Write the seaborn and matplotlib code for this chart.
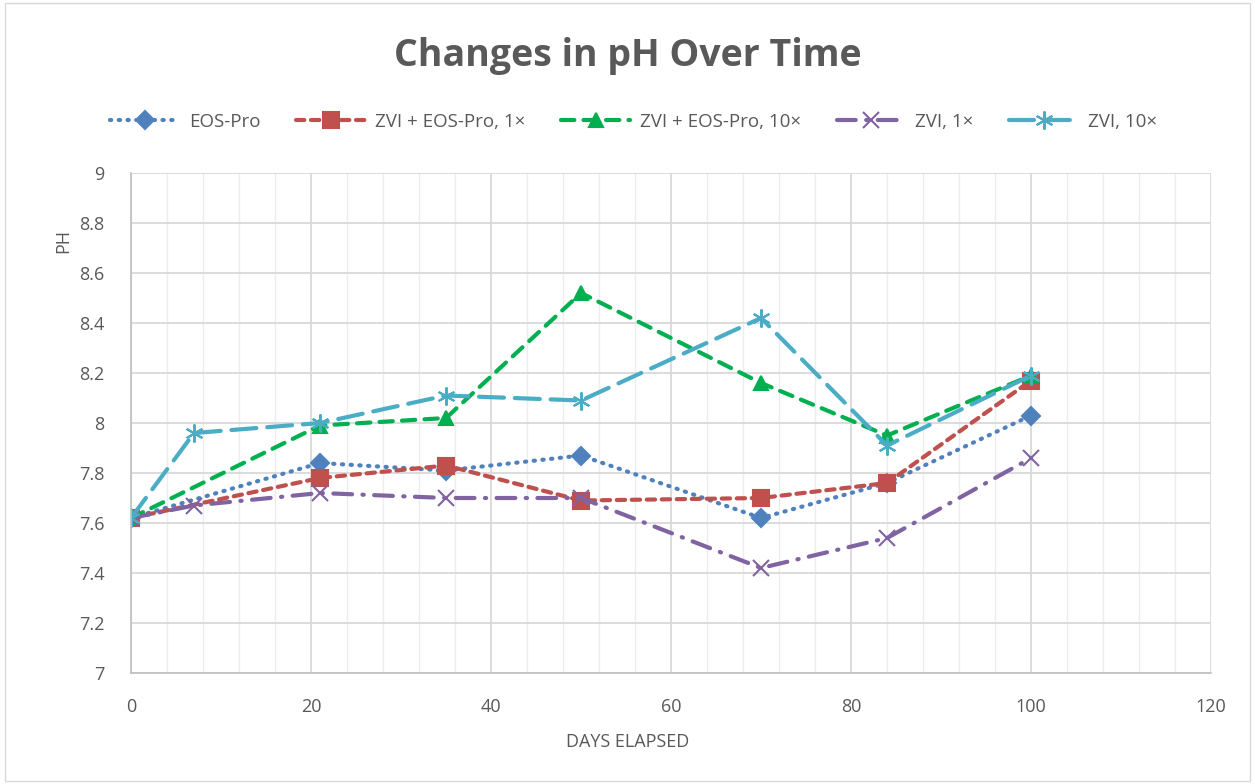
import numpy as np
import pandas as pd
import seaborn as sns
import matplotlib.pyplot as plt
from matplotlib.ticker import MultipleLocator

# data
days_a = [0, 21, 35, 50, 70, 84, 100]
days_b = [0, 7, 21, 35, 50, 70, 84, 100]
eos_pro = [7.62, 7.84, 7.81, 7.87, 7.62, 7.76, 8.03]
zvi_eos_1x = [7.62, 7.78, 7.83, 7.69, 7.70, 7.76, 8.17]
zvi_eos_10x = [7.62, 7.99, 8.02, 8.52, 8.16, 7.95, 8.19]
zvi_1x = [7.62, 7.67, 7.72, 7.70, 7.70, 7.42, 7.54, 7.86]
zvi_10x = [7.62, 7.96, 8.00, 8.11, 8.09, 8.42, 7.91, 8.19]

series = [
    ("EOS-Pro", days_a, eos_pro),
    ("ZVI + EOS-Pro, 1×", days_a, zvi_eos_1x),
    ("ZVI + EOS-Pro, 10×", days_a, zvi_eos_10x),
    ("ZVI, 1×", days_b, zvi_1x),
    ("ZVI, 10×", days_b, zvi_10x),
]
colors = ["#4F81BD", "#C0504D", "#00B050", "#8064A2", "#4BACC6"]
styles = [(0, (0.3, 1.8)), (0, (2.0, 1.6)), (0, (3.2, 2.2)),
          (0, (4.5, 2.5, 0.3, 2.5)), (0, (6, 2.6))]
markers = ["D", "s", "^", "x", (6, 2, 0)]
msizes = [9, 11, 10, 11, 13]

sns.set_style("white")
plt.rcParams['font.family'] = ['Open Sans', 'DejaVu Sans']

fig = plt.figure(figsize=(12.55, 7.84), dpi=100)
ax = fig.add_axes([0.1044, 0.1416, 0.8606, 0.6377])

for (name, xs, ys), c, ls, m, ms in zip(series, colors, styles, markers, msizes):
    df = pd.DataFrame({"day": xs, "ph": ys})
    sns.lineplot(data=df, x="day", y="ph", ax=ax, color=c, linestyle=ls,
                 linewidth=3.0, marker=m, markersize=ms, markeredgecolor=c,
                 markeredgewidth=1.5, dash_capstyle='round', label=name)

ax.set_xlim(0, 120)
ax.set_ylim(7, 9)
ax.xaxis.set_major_locator(MultipleLocator(20))
ax.xaxis.set_minor_locator(MultipleLocator(4))
ax.yaxis.set_major_locator(MultipleLocator(0.2))
ax.yaxis.set_major_formatter(plt.FuncFormatter(lambda v, p: f"{v:g}"))
ax.grid(which='major', axis='x', color='#D9D9D9', linewidth=1.3)
ax.grid(which='minor', axis='x', color='#EDEDED', linewidth=1.0)
ax.grid(which='major', axis='y', color='#D9D9D9', linewidth=1.3)
ax.set_axisbelow(True)
for s in ['top', 'right']:
    ax.spines[s].set_visible(False)
for s in ['left', 'bottom']:
    ax.spines[s].set_color('#BFBFBF')
    ax.spines[s].set_linewidth(1.2)
ax.tick_params(axis='both', which='both', length=0, labelsize=13,
               labelcolor='#595959')
ax.tick_params(axis='x', pad=18)
ax.tick_params(axis='y', pad=19)
ax.set_xlabel("")
ax.set_ylabel("")

fig.text(0.5, 0.053, "DAYS ELAPSED", ha='center', va='center',
         fontsize=13, color='#595959')
fig.text(0.05, 0.693, "PH", ha='center', va='center', rotation=90,
         fontsize=13, color='#595959')
fig.text(0.5, 0.928, "Changes in pH Over Time", ha='center', va='center',
         fontsize=27, fontweight='bold', color='#595959')

ax.legend(loc='center', bbox_to_anchor=(0.505, 0.845), bbox_transform=fig.transFigure,
          ncol=5, frameon=False, fontsize=13.5, handlelength=3.7,
          columnspacing=1.9, handletextpad=0.5, labelcolor='#595959')

fig.patches.append(plt.Rectangle((0.004, 0.004), 0.992, 0.992, transform=fig.transFigure,
                                 fill=False, edgecolor='#D9D9D9', linewidth=1))
fig.savefig("out.png", dpi=100)
